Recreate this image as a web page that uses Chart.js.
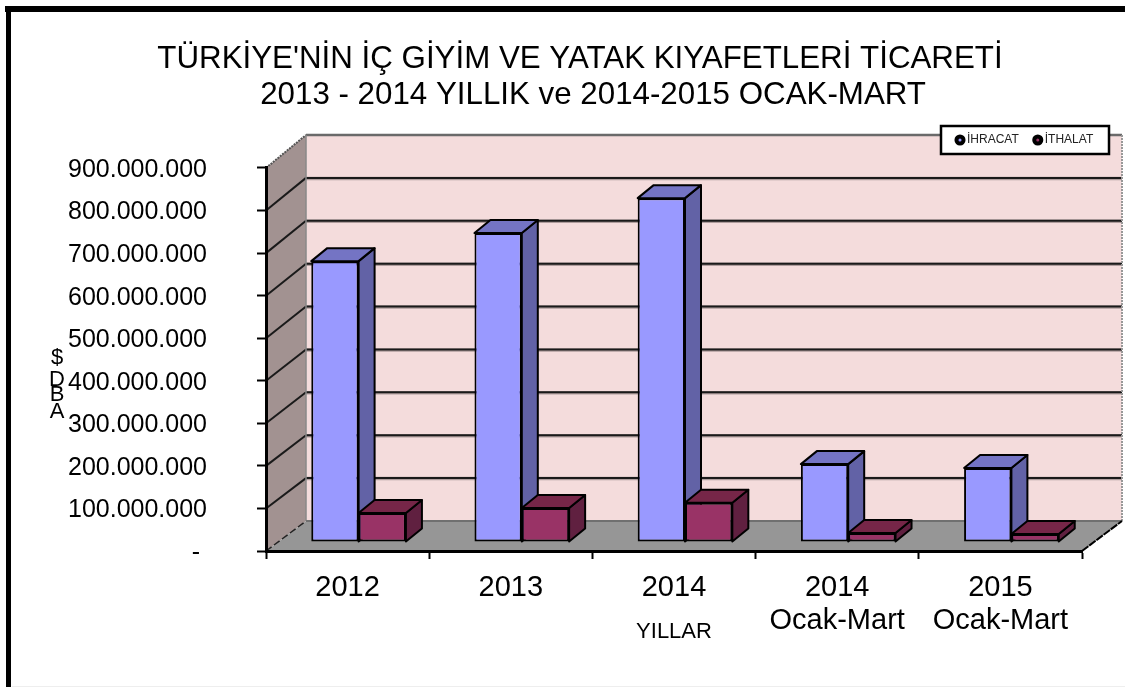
<!DOCTYPE html>
<html><head><meta charset="utf-8">
<script src="https://cdn.jsdelivr.net/npm/chart.js@4"></script>
<style>html,body{margin:0;padding:0;background:#fff;overflow:hidden}canvas{display:block}</style>
</head><body>
<canvas id="c" width="1125" height="687"></canvas>
<script>
const categories = ['2012','2013','2014',['2014','Ocak-Mart'],['2015','Ocak-Mart']];
const ihracat = [660000000,726000000,808000000,183000000,174000000];
const ithalat = [68000000,80000000,92000000,21000000,19000000];
const titleLines = ["TÜRKİYE'NİN İÇ GİYİM VE YATAK KIYAFETLERİ TİCARETİ","\u00a0\u00a0\u00a02013 - 2014 YILLIK ve 2014-2015 OCAK-MART"];
const yAxisLetters = ['$','D','B','A'];
const xAxisTitle = 'YILLAR';
const seriesNames = ['İHRACAT','İTHALAT'];

Chart.defaults.font.family = '"Liberation Sans", Arial, sans-serif';
Chart.defaults.color = '#000';
const WALL = {dx:40, dyTop:-33, dyBottom:-30};
const BAR = {dx:16, dy:-13, sx:11, sy:-9};
const faces = [{top:'#7474C4',side:'#6262A6'},{top:'#762648',side:'#602040'}];

function poly(ctx, pts, fill, stroke, lw, dash){
  ctx.save();ctx.beginPath();
  pts.forEach((p,i)=> i?ctx.lineTo(p[0],p[1]):ctx.moveTo(p[0],p[1]));
  ctx.closePath();
  if(fill){ctx.fillStyle=fill;ctx.fill();}
  if(stroke){ctx.strokeStyle=stroke;ctx.lineWidth=lw||1;ctx.lineJoin='round';if(dash)ctx.setLineDash(dash);ctx.stroke();}
  ctx.restore();
}
function line(ctx,x0,y0,x1,y1,color,lw,dash){
  ctx.save();ctx.beginPath();ctx.moveTo(x0,y0);ctx.lineTo(x1,y1);ctx.strokeStyle=color;ctx.lineWidth=lw;
  if(dash)ctx.setLineDash(dash);ctx.stroke();ctx.restore();
}
function drawFaces(chart,index){
  const ctx=chart.ctx,f=faces[index];
  chart.getDatasetMeta(index).data.forEach(el=>{
    const p=el.getProps(['x','y','base','width'],true);
    const x0=p.x-p.width/2,x1=p.x+p.width/2,d=BAR.dx,e=BAR.dy;
    poly(ctx,[[x1,p.y],[x1,p.base],[x1+d,p.base+e],[x1+d,p.y+e]],f.side,'#000',2);
    poly(ctx,[[x0,p.y],[x1,p.y],[x1+d,p.y+e],[x0+d,p.y+e]],f.top,'#000',2);
  });
}
const scene = {
  id:'scene',
  beforeLayout(chart){
    const l=chart.legend;
    if(!l._fitWrapped){
      const fit=l.fit; l.fit=function(){fit.call(this);this.height=0;}; l._fitWrapped=true;
    }
  },
  afterLayout(chart){
    const l=chart.legend; l.left=941; l.right=1125; l.top=116; l.bottom=155; l.adjustHitBoxes();
    chart.titleBlock.left=78;
  },
  beforeDraw(chart){
    const ctx=chart.ctx, a=chart.chartArea, y=chart.scales.y;
    ctx.save();
    ctx.fillStyle='#fff';ctx.fillRect(0,0,1125,687);
    ctx.fillStyle='#000';ctx.fillRect(5,6,1120,6);ctx.fillRect(6,6,5,681);
    ctx.fillStyle='#eee';ctx.fillRect(12,686,1113,1);
    const L=a.left,R=a.right,T=a.top,B=a.bottom,dx=WALL.dx;
    const wt=T+WALL.dyTop, wb=B+WALL.dyBottom;
    poly(ctx,[[L+dx,wt],[R+dx,wt],[R+dx,wb],[L+dx,wb]],'#F4DCDC');
    poly(ctx,[[L,T],[L+dx,wt],[L+dx,wb],[L,B]],'#A29291');
    poly(ctx,[[L,B],[L+dx,wb],[R+dx,wb],[R,B]],'#969696');
    y.ticks.forEach(t=>{
      if(t.value===0||t.value===y.max) return;
      const p=y.getPixelForValue(t.value);
      const q=p+WALL.dyBottom+(WALL.dyTop-WALL.dyBottom)*(t.value/y.max);
      line(ctx,L,p,L+dx,q,'#1a1a1a',2);
      line(ctx,L+dx,q+0.5,R+dx,q+0.5,'rgba(90,80,80,.45)',3.5);
      line(ctx,L+dx,q,R+dx,q,'#1a1a1a',2);
    });
    line(ctx,L+dx,wt,R+dx,wt,'#6a6a6a',2.5);
    line(ctx,L,T,L+dx,wt,'#555',2,[2,1]);
    line(ctx,L+dx,wt,L+dx,wb,'#888',1.5);
    line(ctx,R+dx,wt,R+dx,wb,'#999',2,[2,1]);
    line(ctx,L+dx,wb,R+dx,wb,'#707070',2);
    line(ctx,L,B,L+dx,wb,'#222',1.5,[7,3]);
    line(ctx,R,B,R+dx,wb,'#000',2,[8,1]);
    ctx.fillStyle='#fff';ctx.fillRect(941,126,168,28);
    ctx.strokeStyle='#000';ctx.lineWidth=2.5;ctx.strokeRect(941,126,168,28);
    ctx.restore();
  },
  beforeDatasetDraw(chart,args){
    if(args.index===1) return false; // the red bars are painted after the blue ones, below
    const ctx=chart.ctx;
    ctx.save();ctx.translate(BAR.sx,BAR.sy);
    drawFaces(chart,0);
  },
  afterDatasetDraw(chart,args){
    if(args.index!==0) return;
    const ctx=chart.ctx;
    drawFaces(chart,1);
    chart.getDatasetMeta(1).data.forEach(el=>el.draw(ctx));
    ctx.restore();
  },
  afterDraw(chart){
    const ctx=chart.ctx, ys=[358,380,395,412];
    ctx.save();ctx.fillStyle='#000';ctx.font='22px "Liberation Sans"';ctx.textAlign='center';ctx.textBaseline='middle';
    yAxisLetters.forEach((s,i)=>ctx.fillText(s,57,ys[i]));
    ctx.restore();
  }
};
new Chart(document.getElementById('c'),{
  type:'bar',
  data:{labels:categories,datasets:[
    {label:seriesNames[0],data:ihracat,backgroundColor:'#9999FF',borderColor:'#000',borderWidth:2,borderSkipped:false,clip:false},
    {label:seriesNames[1],data:ithalat,backgroundColor:'#993366',borderColor:'#000',borderWidth:2,borderSkipped:false,clip:false}
  ]},
  plugins:[scene],
  options:{
    responsive:false,animation:false,
    layout:{padding:{left:40,right:43,top:0,bottom:0}},
    datasets:{bar:{categoryPercentage:0.58,barPercentage:1}},
    plugins:{
      tooltip:{enabled:false},
      title:{display:true,text:titleLines,color:'#000',font:{size:31.3,weight:'normal',lineHeight:1.15},padding:{top:41,bottom:55}},
      legend:{display:true,position:'top',align:'start',
        labels:{usePointStyle:true,pointStyle:'circle',boxWidth:2,boxHeight:5,padding:18,color:'#222',font:{size:12},
          generateLabels:c=>Chart.defaults.plugins.legend.labels.generateLabels(c).map(i=>({...i,lineWidth:4}))}}
    },
    scales:{
      x:{
        afterFit(s){s.height=136;},
        grid:{display:true,drawOnChartArea:false,drawTicks:true,tickLength:8,tickColor:'#000',tickWidth:2,offset:true},
        border:{display:true,color:'#000',width:3,dash:[2,2]},
        ticks:{autoSkip:false,maxRotation:0,minRotation:0,padding:13,color:'#000',font:{size:29,lineHeight:1.12}},
        title:{display:true,text:xAxisTitle,color:'#000',font:{size:22},padding:{top:0,bottom:42}}
      },
      y:{
        min:0,max:900000000,
        afterFit(s){s.width=226;},
        grid:{display:true,drawOnChartArea:false,drawTicks:true,tickLength:9,tickColor:'#000',tickWidth:2},
        border:{display:true,color:'#000',width:3,dash:[2,2]},
        ticks:{stepSize:100000000,padding:50,labelOffset:2,color:'#000',font:{size:25},
          callback:v=> v===0?'-\u00a0':String(v).replace(/\B(?=(\d{3})+$)/g,'.')}
      }
    }
  }
});
</script>
</body></html>
